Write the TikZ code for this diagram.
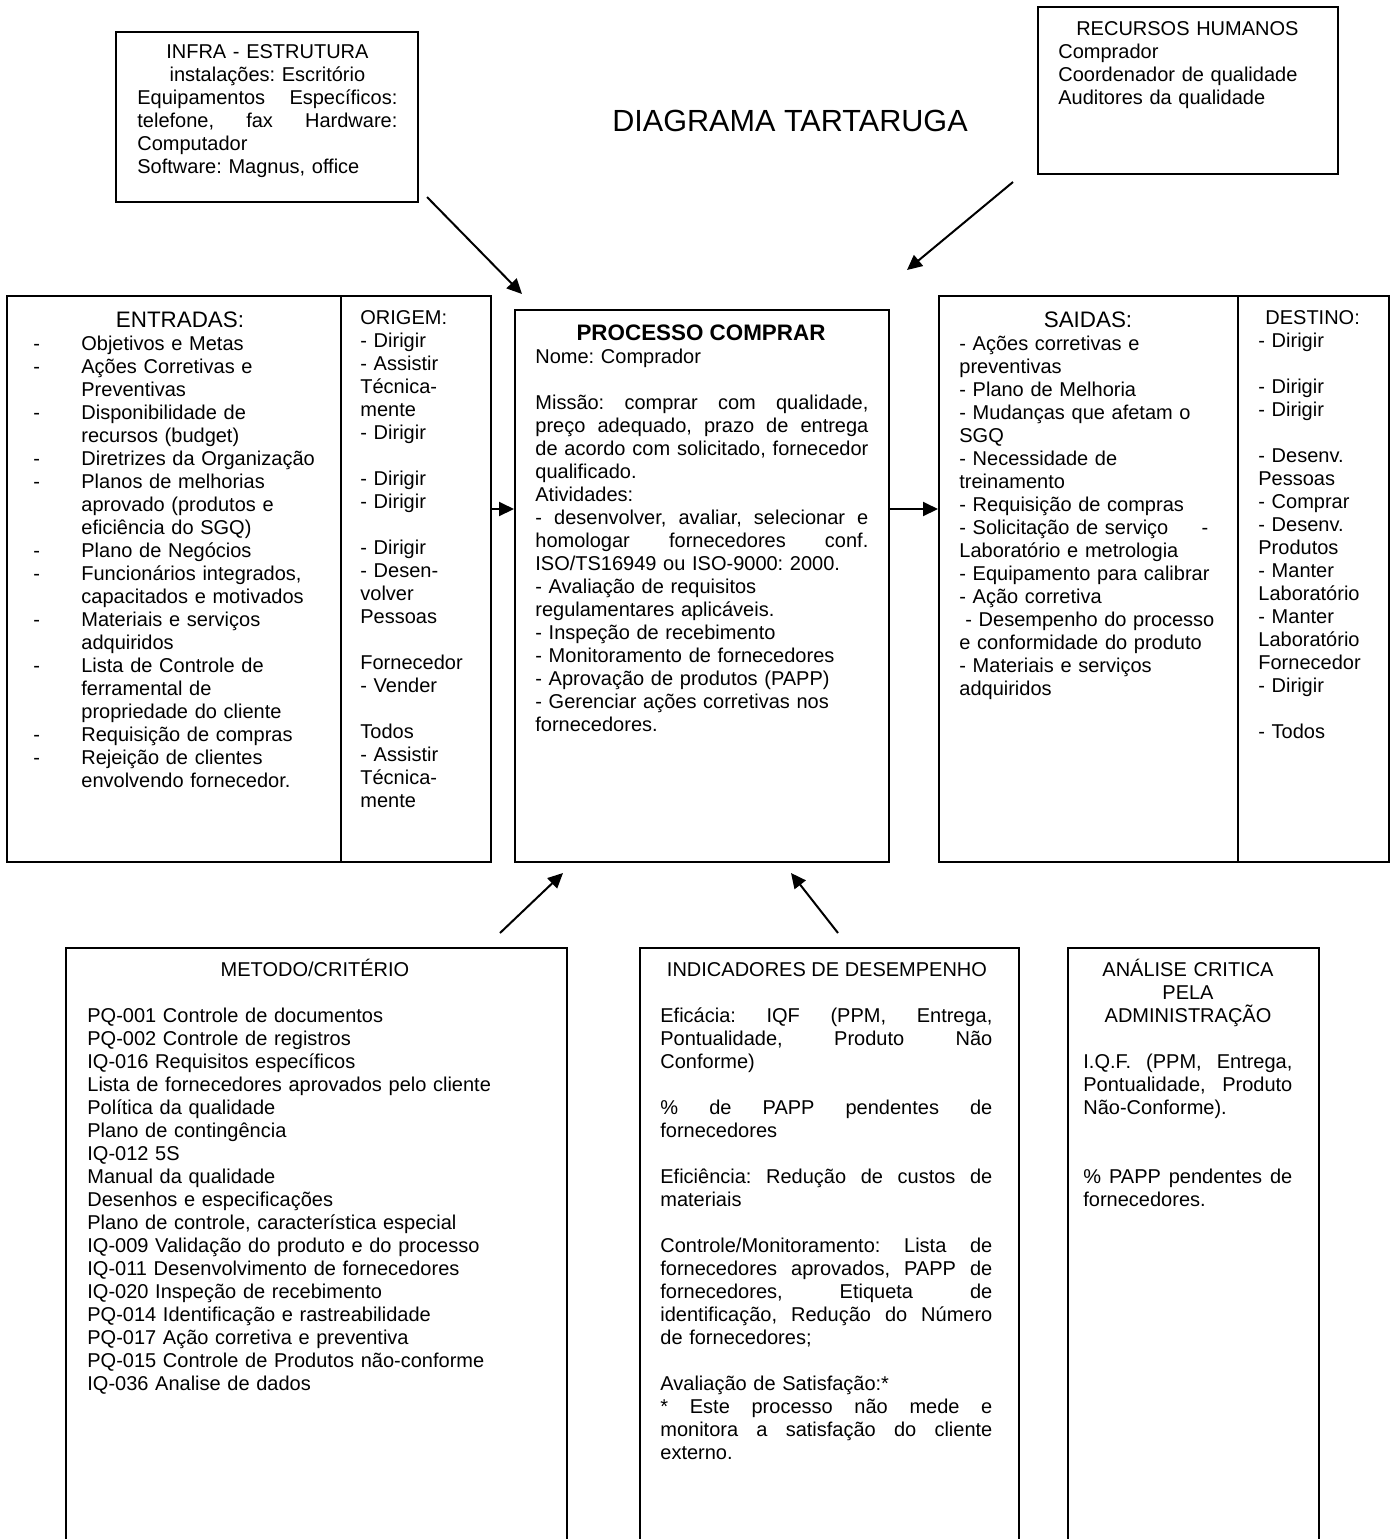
\documentclass[tikz,border=0pt]{standalone}
\usepackage{fontspec}
\setmainfont{Liberation Sans}
\usetikzlibrary{arrows.meta}
\frenchspacing
\newcommand\jst[2]{\leavevmode\hbox to #1{\spaceskip=\fontdimen2\font plus 1fil\relax #2}}
\newcommand\di{\makebox[24pt][l]{-}}
\newcommand\ci{\hspace*{24pt}}
\begin{document}
\begin{tikzpicture}[x=0.5pt,y=-0.5pt,
  box/.style={draw,line width=1pt,rectangle,inner sep=0pt,anchor=north west},
  txt/.style={inner sep=0pt,anchor=base west,align=left,font=\fontsize{10pt}{11.5pt}\selectfont\frenchspacing},
  ctxt/.style={inner sep=0pt,anchor=base,align=center,font=\fontsize{10pt}{11.5pt}\selectfont\frenchspacing},
  head/.style={inner sep=0pt,anchor=base,font=\fontsize{11.2pt}{13pt}\selectfont},
  arr/.style={line width=1pt,-{Triangle[length=7.5pt,width=7pt]}}]
\useasboundingbox (0,0) rectangle (1393,1539);

% ---------- boxes ----------
\node[box,minimum width=151pt,minimum height=85pt] (infra) at (115,31) {};
\node[box,minimum width=150pt,minimum height=83.5pt] (rh) at (1037,6) {};
\node[box,minimum width=167pt,minimum height=283pt] (ent) at (6,295) {};
\node[box,minimum width=75pt,minimum height=283pt] (orig) at (340,295) {};
\node[box,minimum width=187pt,minimum height=276pt] (proc) at (514,309) {};
\node[box,minimum width=149.5pt,minimum height=283pt] (sai) at (938,295) {};
\node[box,minimum width=75.5pt,minimum height=283pt] (dest) at (1237,295) {};
\node[box,minimum width=250.5pt,minimum height=320pt] (met) at (65,947) {};
\node[box,minimum width=189.5pt,minimum height=320pt] (ind) at (639,947) {};
\node[box,minimum width=125.5pt,minimum height=320pt] (ana) at (1067,947) {};

% ---------- title ----------
\node[inner sep=0pt,anchor=base,font=\fontsize{15.3pt}{18pt}\selectfont] (title) at (790,131) {DIAGRAMA TARTARUGA};

% ---------- infra ----------
\node[txt,text width=130pt] (infratxt) at (137,58) {%
\makebox[130pt]{INFRA - ESTRUTURA}\\
\makebox[130pt]{instalações: Escritório}\\
\jst{130pt}{Equipamentos Específicos:}\\
\jst{130pt}{telefone, fax Hardware:}\\
Computador\\
Software: Magnus, office};

% ---------- recursos humanos ----------
\node[txt,text width=129pt] (rhtxt) at (1058,35) {%
\makebox[129pt]{RECURSOS HUMANOS}\\
Comprador\\
Coordenador de qualidade\\
Auditores da qualidade};

% ---------- entradas ----------
\node[head] (enthead) at (180,327) {ENTRADAS:};
\node[txt,text width=150pt] (enttxt) at (33,350) {%
\di Objetivos e Metas\\
\di Ações Corretivas e\\
\ci Preventivas\\
\di Disponibilidade de\\
\ci recursos (budget)\\
\di Diretrizes da Organização\\
\di Planos de melhorias\\
\ci aprovado (produtos e\\
\ci eficiência do SGQ)\\
\di Plano de Negócios\\
\di Funcionários integrados,\\
\ci capacitados e motivados\\
\di Materiais e serviços\\
\ci adquiridos\\
\di Lista de Controle de\\
\ci ferramental de\\
\ci propriedade do cliente\\
\di Requisição de compras\\
\di Rejeição de clientes\\
\ci envolvendo fornecedor.};

% ---------- origem ----------
\node[txt,text width=70pt] (origtxt) at (360,324) {%
ORIGEM:\\
- Dirigir\\
- Assistir\\
Técnica-\\
mente\\
- Dirigir\\
\mbox{}\\
- Dirigir\\
- Dirigir\\
\mbox{}\\
- Dirigir\\
- Desen-\\
volver\\
Pessoas\\
\mbox{}\\
Fornecedor\\
- Vender\\
\mbox{}\\
Todos\\
- Assistir\\
Técnica-\\
mente};

% ---------- processo ----------
\node[head,font=\bfseries\fontsize{11.2pt}{13pt}\selectfont] (prochead) at (701,340) {PROCESSO COMPRAR};
\node[txt,text width=166.5pt] (proctxt) at (535,363) {%
Nome: Comprador\\
\mbox{}\\
\jst{166.5pt}{Missão: comprar com qualidade,}\\
\jst{166.5pt}{preço adequado, prazo de entrega}\\
\jst{166.5pt}{de acordo com solicitado, fornecedor}\\
qualificado.\\
Atividades:\\
\jst{166.5pt}{- desenvolver, avaliar, selecionar e}\\
\jst{166.5pt}{homologar fornecedores conf.}\\
ISO/TS16949 ou ISO-9000: 2000.\\
- Avaliação de requisitos\\
regulamentares aplicáveis.\\
- Inspeção de recebimento\\
- Monitoramento de fornecedores\\
- Aprovação de produtos (PAPP)\\
- Gerenciar ações corretivas nos\\
fornecedores.};

% ---------- saidas ----------
\node[head] (saihead) at (1088,327) {SAIDAS:};
\node[txt,text width=135pt] (saitxt) at (959,350) {%
- Ações corretivas e\\
preventivas\\
- Plano de Melhoria\\
- Mudanças que afetam o\\
SGQ\\
- Necessidade de\\
treinamento\\
- Requisição de compras\\
\makebox[124.5pt][s]{- Solicitação de serviço\hfill -}\\
Laboratório e metrologia\\
- Equipamento para calibrar\\
- Ação corretiva\\
\hspace*{3pt}- Desempenho do processo\\
e conformidade do produto\\
- Materiais e serviços\\
adquiridos};

% ---------- destino ----------
\node[txt,text width=70pt] (desttxt) at (1258,324) {%
\hspace*{3.5pt}DESTINO:\\
- Dirigir\\
\mbox{}\\
- Dirigir\\
- Dirigir\\
\mbox{}\\
- Desenv.\\
Pessoas\\
- Comprar\\
- Desenv.\\
Produtos\\
- Manter\\
Laboratório\\
- Manter\\
Laboratório\\
Fornecedor\\
- Dirigir\\
\mbox{}\\
- Todos};

% ---------- metodo ----------
\node[ctxt] (methead) at (315,976) {METODO/CRITÉRIO};
\node[txt,text width=240pt] (mettxt) at (87,1022) {%
PQ-001 Controle de documentos\\
PQ-002 Controle de registros\\
IQ-016 Requisitos específicos\\
Lista de fornecedores aprovados pelo cliente\\
Política da qualidade\\
Plano de contingência\\
IQ-012 5S\\
Manual da qualidade\\
Desenhos e especificações\\
Plano de controle, característica especial\\
IQ-009 Validação do produto e do processo\\
IQ-011 Desenvolvimento de fornecedores\\
IQ-020 Inspeção de recebimento\\
PQ-014 Identificação e rastreabilidade\\
PQ-017 Ação corretiva e preventiva\\
PQ-015 Controle de Produtos não-conforme\\
IQ-036 Analise de dados};

% ---------- indicadores ----------
\node[ctxt] (indhead) at (827,976) {INDICADORES DE DESEMPENHO};
\node[txt,text width=166pt] (indtxt) at (660,1022) {%
\jst{166pt}{Eficácia: IQF (PPM, Entrega,}\\
\jst{166pt}{Pontualidade, Produto Não}\\
Conforme)\\
\mbox{}\\
\jst{166pt}{\% de PAPP pendentes de}\\
fornecedores\\
\mbox{}\\
\jst{166pt}{Eficiência: Redução de custos de}\\
materiais\\
\mbox{}\\
\jst{166pt}{Controle/Monitoramento: Lista de}\\
\jst{166pt}{fornecedores aprovados, PAPP de}\\
\jst{166pt}{fornecedores, Etiqueta de}\\
\jst{166pt}{identificação, Redução do Número}\\
de fornecedores;\\
\mbox{}\\
Avaliação de Satisfação:*\\
\jst{166pt}{* Este processo não mede e}\\
\jst{166pt}{monitora a satisfação do cliente}\\
externo.};

% ---------- analise ----------
\node[ctxt,text width=110pt] (anahead) at (1188,976) {ANÁLISE CRITICA\\PELA\\ADMINISTRAÇÃO};
\node[txt,text width=104.5pt] (anatxt) at (1083,1068) {%
\jst{104.5pt}{I.Q.F. (PPM, Entrega,}\\
\jst{104.5pt}{Pontualidade, Produto}\\
Não-Conforme).\\
\mbox{}\\
\mbox{}\\
\jst{104.5pt}{\% PAPP pendentes de}\\
fornecedores.};

% ---------- arrows ----------
\coordinate (a1s) at (427,197);
\coordinate (a1e) at (522,294);
\coordinate (a2s) at (1013,182);
\coordinate (a2e) at (907,270);
\coordinate (a5s) at (500,933);
\coordinate (a5e) at (563,873);
\coordinate (a6s) at (838,933);
\coordinate (a6e) at (791,873);
\coordinate (yh) at (0,509);
\draw[arr] (a1s) -- (a1e);
\draw[arr] (a2s) -- (a2e);
\draw[arr] (a5s) -- (a5e);
\draw[arr] (a6s) -- (a6e);
\draw[arr] (orig.east |- yh) -- (proc.west |- yh);
\draw[arr] (proc.east |- yh) -- (sai.west |- yh);
\end{tikzpicture}
\end{document}
